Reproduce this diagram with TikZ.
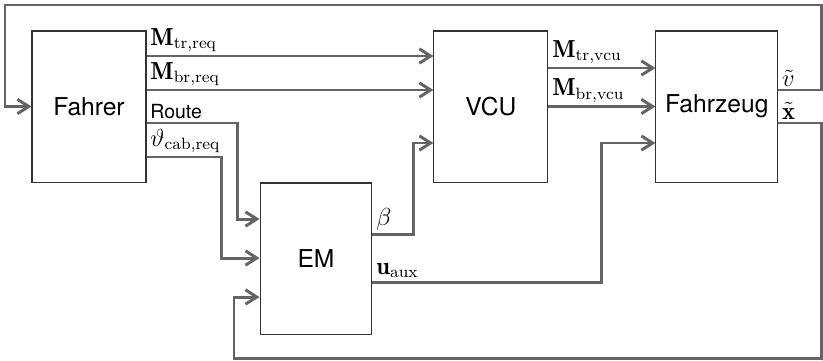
\documentclass[tikz,border=0pt]{standalone}
\usepackage{amsmath}
\usepackage{fontspec}
\usetikzlibrary{arrows.meta,positioning,calc}
\newfontfamily\heros{TeX Gyre Heros}
\definecolor{sigline}{RGB}{100,100,100}

\tikzset{
  block/.style={draw=black!80, line width=0.5pt, minimum height=2.59cm,
                font=\heros\large},
  sig/.style={draw=sigline, line width=1.45pt},
  sigarr/.style={sig, -{Straight Barb[length=5.5pt,width=7pt]}},
  lbl/.style={above right, inner sep=1.2pt, text=black, font=\large},
}

\begin{document}
\begin{tikzpicture}[x=0.01715cm, y=-0.01715cm]
  \useasboundingbox (0,0) rectangle (823,360);
  % blocks
  \node[block, minimum width=1.955cm] (fahrer) at (89,106.5) {Fahrer};
  \node[block, minimum width=1.955cm, right=4.92cm of fahrer] (vcu) {VCU};
  \node[block, minimum width=2.09cm, right=1.835cm of vcu] (fzg) {Fahrzeug};
  \node[block, minimum width=1.92cm] (em) at (316,258.5) {EM};
  % signal levels
  \coordinate (yTr) at (0,56);
  \coordinate (yBr) at (0,90);
  \coordinate (yRt) at (0,123);
  \coordinate (yTh) at (0,157);
  \coordinate (yTrV) at (0,68);
  \coordinate (yLow) at (0,143);
  \coordinate (yEmA) at (0,219);
  \coordinate (yEmB) at (0,258);
  \coordinate (yEmC) at (0,297);
  \coordinate (yBeta) at (0,234);
  \coordinate (yAux) at (0,282);
  \coordinate (ne) at (821,5);
  \coordinate (nw) at (5,5);
  \coordinate (se) at (821,358);
  \coordinate (sw) at (234,358);
  % Fahrer -> VCU / EM
  \draw[sigarr] (fahrer.east |- yTr) node[lbl] {$\mathbf{M}_\mathrm{tr,req}$} -- (vcu.west |- yTr);
  \draw[sigarr] (fahrer.east |- yBr) node[lbl] {$\mathbf{M}_\mathrm{br,req}$} -- (vcu.west |- yBr);
  \draw[sigarr] (fahrer.east |- yRt) node[lbl, font=\heros\fontsize{9.5}{11}\selectfont] {Route}
    -- ++(91,0) |- (em.west |- yEmA);
  \draw[sigarr] (fahrer.east |- yTh) node[lbl] {$\vartheta_\mathrm{cab,req}$}
    -- ++(75,0) |- (em.west |- yEmB);
  % EM -> VCU / Fahrzeug
  \draw[sigarr] (em.east |- yBeta) node[lbl] {$\beta$} -- ++(41,0) |- (vcu.west |- yLow);
  \draw[sigarr] (em.east |- yAux) node[lbl] {$\mathbf{u}_\mathrm{aux}$} -- ++(229,0) |- (fzg.west |- yLow);
  % VCU -> Fahrzeug
  \draw[sigarr] (vcu.east |- yTrV) node[lbl] {$\mathbf{M}_\mathrm{tr,vcu}$} -- (fzg.west |- yTrV);
  \draw[sigarr] (vcu.east) node[lbl] {$\mathbf{M}_\mathrm{br,vcu}$} -- (fzg.west);
  % feedback
  \draw[sigarr] (fzg.east |- yBr) node[lbl] {$\tilde{v}$} -| (ne) -- (nw) |- (fahrer.west);
  \draw[sigarr] (fzg.east |- yRt) node[lbl] {$\tilde{\mathbf{x}}$} -| (se) -- (sw) |- (em.west |- yEmC);
\end{tikzpicture}
\end{document}
